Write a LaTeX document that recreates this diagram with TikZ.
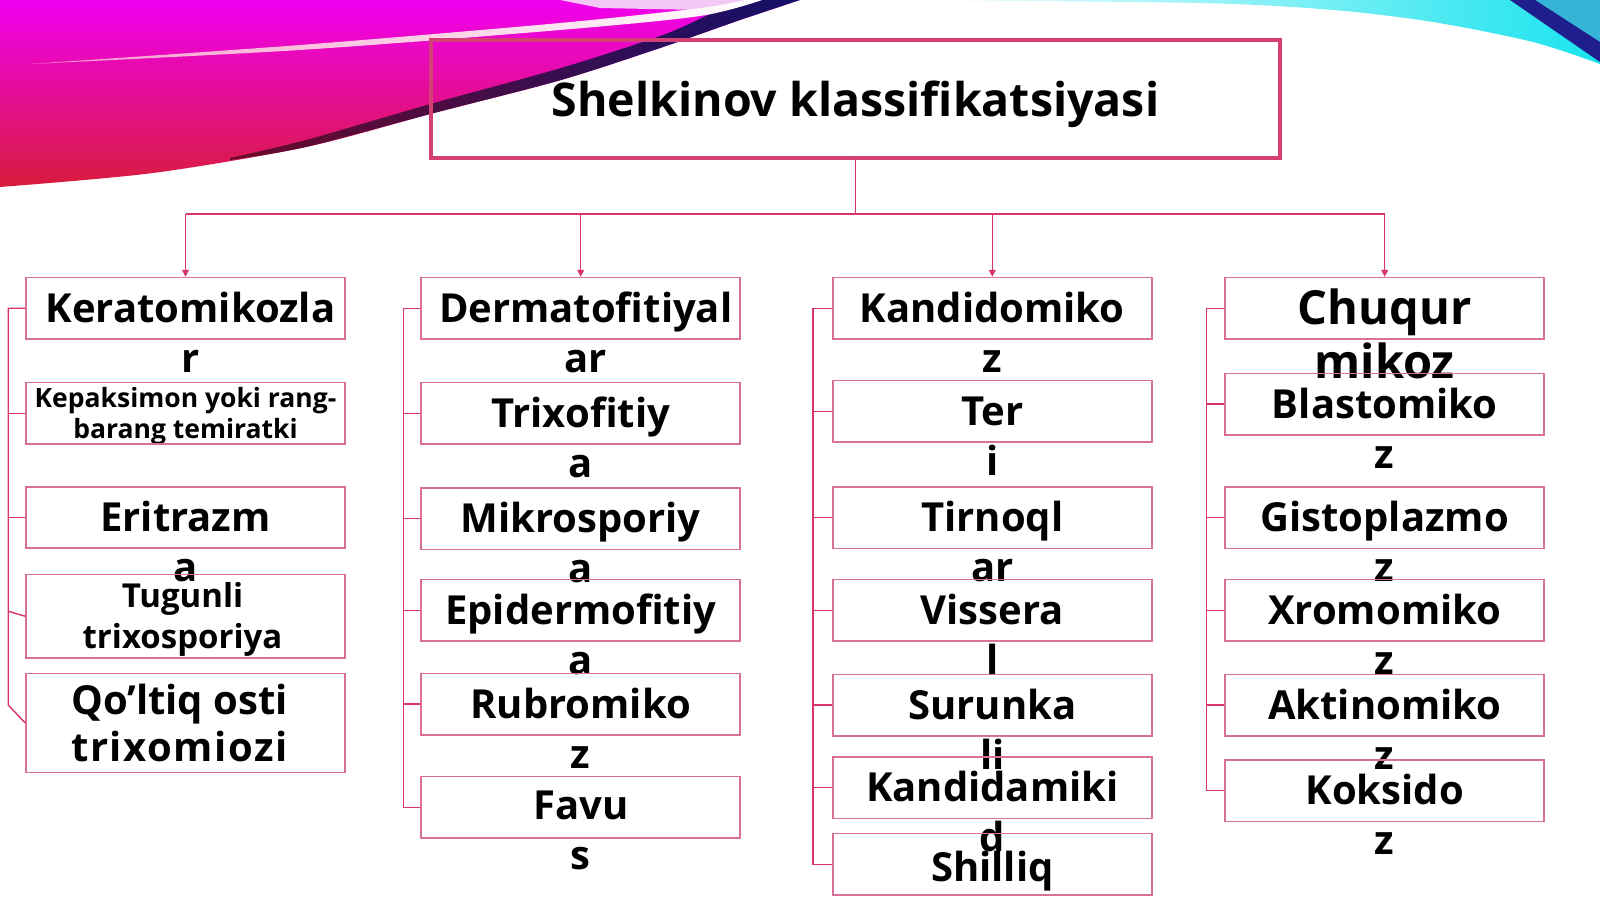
\documentclass[tikz,border=0pt]{standalone}
\usepackage{fontspec}
\setmainfont{Open Sans}
\usetikzlibrary{calc,arrows.meta}
\definecolor{connc}{HTML}{D6336F}
\definecolor{boxc}{HTML}{D8709A}
\definecolor{titc}{HTML}{D43F76}
\definecolor{mag}{HTML}{F000F0}
\definecolor{hpink}{HTML}{F0208A}
\definecolor{cred}{HTML}{D81C3C}
\definecolor{navyb}{HTML}{14106A}
\definecolor{maroonb}{HTML}{6A0A2A}
\definecolor{cyanb}{HTML}{19E3EE}
\definecolor{tealb}{HTML}{35B4D8}
\definecolor{navyr}{HTML}{1E1E8C}
\definecolor{lilac}{HTML}{F4C8F4}
\pgfdeclarelayer{bg}
\pgfdeclarelayer{txt}
\pgfsetlayers{bg,txt,main}
\tikzset{
  box/.style={draw=boxc, line width=1.5pt, minimum width=319pt, minimum height=61.5pt, inner sep=0pt},
  lbl/.style={font=\bfseries\fontsize{40}{50}\selectfont, align=center, inner sep=0pt, text=black},
  lblsmall/.style={lbl, font=\bfseries\fontsize{26.5}{31}\selectfont},
  lblmid/.style={lbl, font=\bfseries\fontsize{33}{41}\selectfont},
  lblbig/.style={lbl, font=\bfseries\fontsize{40}{47}\selectfont},
  lblchuq/.style={lbl, font=\bfseries\fontsize{47}{54}\selectfont},
  conn/.style={draw=connc, line width=1.4pt},
  arr/.style={conn, -{Triangle[length=7pt,width=7pt]}},
}
\begin{document}
\begin{tikzpicture}[x=1pt,y=-1pt]
\useasboundingbox (0,0) rectangle (1600,899);
\begin{pgfonlayer}{bg}
\fill[white] (0,0) rectangle (1600,899);
% top-left swoosh
\shade[top color=mag, middle color=hpink, bottom color=cred]
  (0,0) -- (800,0) -- plot[smooth] coordinates {(800,0) (740,20) (663,47) (561,80) (434,113) (306,147) (153,173) (0,187)} -- cycle;
\shade[left color=maroonb, right color=navyb]
  plot[smooth] coordinates {(800,0) (740,20) (663,47) (561,80) (434,113) (306,147) (230,160)}
  -- plot[smooth] coordinates {(230,158) (306,140) (434,103) (561,68) (663,35) (715,12) (750,0)} -- cycle;
\fill[lilac] (560,0) -- (750,0) -- (700,10) -- (600,8) -- cycle;
\shade[left color=hpink!45!white, right color=white]
  plot[smooth] coordinates {(30,64) (300,45) (560,23) (700,8) (745,0)}
  -- plot[smooth] coordinates {(762,0) (700,16) (560,30) (300,50) (30,64)} -- cycle;
% top-right
\shade[left color=white, right color=cyanb]
  (900,0) -- (1600,0) -- plot[smooth] coordinates {(1600,64) (1533,42) (1433,22) (1333,10) (1200,3) (900,0)} -- cycle;
\fill[tealb] (1535,0) -- (1600,0) -- (1600,42) -- cycle;
\fill[navyr] (1510,0) -- (1535,0) -- (1600,42) -- (1600,62) -- cycle;
\end{pgfonlayer}

% title
\node[draw=titc, line width=3.5pt, minimum width=849pt, minimum height=118pt, inner sep=0pt] (title) at (855.5,99) {};

% column 1
\node[box] (k1) at (185.5,308.25) {};
\node[box] (k2) at (185.5,413.25) {};
\node[box, minimum height=61pt] (k3) at (185.5,517.5) {};
\node[box, minimum height=83.5pt] (k4) at (185.5,616.25) {};
\node[box, minimum height=99pt] (k5) at (185.5,723) {};
% column 2
\node[box] (d1) at (580.7,308.25) {};
\node[box] (d2) at (580.7,413.25) {};
\node[box] (d3) at (580.7,518.5) {};
\node[box] (d4) at (580.7,610.25) {};
\node[box] (d5) at (580.7,704) {};
\node[box] (d6) at (580.7,807.25) {};
% column 3
\node[box] (n1) at (992.3,308.25) {};
\node[box] (n2) at (992.3,411.3) {};
\node[box] (n3) at (992.3,517.5) {};
\node[box] (n4) at (992.3,610.25) {};
\node[box] (n5) at (992.3,705.1) {};
\node[box] (n6) at (992.3,787.5) {};
\node[box] (n7) at (992.3,864.4) {};
% column 4
\node[box] (m1) at (1384.7,308.25) {};
\node[box] (m2) at (1384.7,404.1) {};
\node[box] (m3) at (1384.7,517.5) {};
\node[box] (m4) at (1384.7,610.25) {};
\node[box] (m5) at (1384.7,705.1) {};
\node[box] (m6) at (1384.7,790.75) {};

\begin{pgfonlayer}{txt}
\node[font=\bfseries\fontsize{46.5}{50}\selectfont, inner sep=0pt] (ttl) at ($(title.center)+(0,5)$) {Shelkinov klassifikatsiyasi};

\node[lbl] (tk1) at ($(k1.center)+(5,29)$) {\strut Keratomikozla\\r\strut};
\node[lblsmall] (tk2) at ($(k2.center)+(0,3.5)$) {\strut Kepaksimon yoki rang-\\barang temiratki\strut};
\node[lbl] (tk3) at ($(k3.center)+(0,29)$) {\strut Eritrazm\\a\strut};
\node[lblmid] (tk4) at ($(k4.center)+(-3,4)$) {\strut Tugunli\\trixosporiya\strut};
\node[lblbig] (tk5) at ($(k5.center)+(-6,6)$) {\strut Qo’ltiq osti\\{\addfontfeature{LetterSpace=3.8}trixomiozi}\strut};

\node[lbl] (td1) at ($(d1.center)+(5,29)$) {\strut Dermatofitiyal\\ar\strut};
\node[lbl] (td2) at ($(d2.center)+(0,29)$) {\strut Trixofitiy\\a\strut};
\node[lbl] (td3) at ($(d3.center)+(0,29)$) {\strut Mikrosporiy\\a\strut};
\node[lbl] (td4) at ($(d4.center)+(0,29)$) {\strut Epidermofitiy\\a\strut};
\node[lbl] (td5) at ($(d5.center)+(0,29)$) {\strut Rubromiko\\z\strut};
\node[lbl] (td6) at ($(d6.center)+(0,27)$) {\strut Favu\\s\strut};

\node[lbl] (tn1) at ($(n1.center)+(0,29)$) {\strut Kandidomiko\\z\strut};
\node[lbl] (tn2) at ($(n2.center)+(0,29)$) {\strut Ter\\i\strut};
\node[lbl] (tn3) at ($(n3.center)+(0,29)$) {\strut Tirnoql\\ar\strut};
\node[lbl] (tn4) at ($(n4.center)+(0,29)$) {\strut Vissera\\l\strut};
\node[lbl] (tn5) at ($(n5.center)+(0,29)$) {\strut Surunka\\li\strut};
\node[lbl] (tn6) at ($(n6.center)+(0,29)$) {\strut Kandidamiki\\d\strut};
\node[lbl] (tn7) at ($(n7.center)+(0,7)$) {\strut Shilliq};

\node[lblchuq] (tm1) at ($(m1.center)+(0,32)$) {\strut Chuqur\\mikoz\strut};
\node[lbl] (tm2) at ($(m2.center)+(0,29)$) {\strut Blastomiko\\z\strut};
\node[lbl] (tm3) at ($(m3.center)+(0,29)$) {\strut Gistoplazmo\\z\strut};
\node[lbl] (tm4) at ($(m4.center)+(0,29)$) {\strut Xromomiko\\z\strut};
\node[lbl] (tm5) at ($(m5.center)+(0,29)$) {\strut Aktinomiko\\z\strut};
\node[lbl] (tm6) at ($(m6.center)+(0,29)$) {\strut Koksido\\z\strut};
\end{pgfonlayer}

% top connectors
\coordinate (hub) at (855.5,214);
\draw[conn] (title.south) -- (hub);
\draw[conn] (k1.north |- hub) -- (m1.north |- hub);
\draw[arr] (k1.north |- hub) -- (k1.north);
\draw[arr] (d1.north |- hub) -- (d1.north);
\draw[arr] (n1.north |- hub) -- (n1.north);
\draw[arr] (m1.north |- hub) -- (m1.north);

% brackets
\coordinate (kb) at ($(k1.west)+(-17,0)$);
\draw[conn] (k1.west) -- (kb) -- ($(kb |- k5.west)+(0,-18)$) -- (k5.west);
\draw[conn] (kb |- k2.west) -- (k2.west);
\draw[conn] (kb |- k3.west) -- (k3.west);
\draw[conn] ($(kb |- k4.west)+(0,-5)$) -- (k4.west);

\coordinate (db) at ($(d1.west)+(-17,0)$);
\draw[conn] (d1.west) -- (db) -- (db |- d6.west) -- (d6.west);
\draw[conn] (db |- d2.west) -- (d2.west);
\draw[conn] (db |- d3.west) -- (d3.west);
\draw[conn] (db |- d4.west) -- (d4.west);
\draw[conn] (db |- d5.west) -- (d5.west);

\coordinate (nb) at ($(n1.west)+(-19,0)$);
\draw[conn] (n1.west) -- (nb) -- (nb |- n7.west) -- (n7.west);
\draw[conn] (nb |- n2.west) -- (n2.west);
\draw[conn] (nb |- n3.west) -- (n3.west);
\draw[conn] (nb |- n4.west) -- (n4.west);
\draw[conn] (nb |- n5.west) -- (n5.west);
\draw[conn] (nb |- n6.west) -- (n6.west);

\coordinate (mb) at ($(m1.west)+(-18,0)$);
\draw[conn] (m1.west) -- (mb) -- (mb |- m6.west) -- (m6.west);
\draw[conn] (mb |- m2.west) -- (m2.west);
\draw[conn] (mb |- m3.west) -- (m3.west);
\draw[conn] (mb |- m4.west) -- (m4.west);
\draw[conn] (mb |- m5.west) -- (m5.west);
\end{tikzpicture}
\end{document}
